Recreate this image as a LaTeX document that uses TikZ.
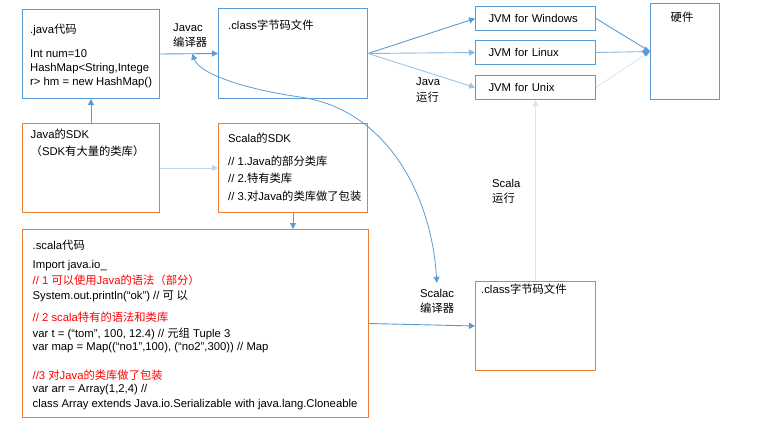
\documentclass[tikz,border=0pt]{standalone}
\usepackage{fontspec}
\setmainfont{Liberation Sans}
\newfontfamily\zhfont{Noto Sans CJK SC}
\newcommand{\zh}[1]{{\zhfont #1}}
\usetikzlibrary{arrows.meta}
\definecolor{boxblue}{RGB}{91,155,213}
\definecolor{boxorange}{RGB}{237,125,49}

\begin{document}
\begin{tikzpicture}[x=1pt,y=-1pt,
    font=\fontsize{11.3}{15.4}\selectfont,
    >={Triangle[length=6pt,width=6pt]},
    bluebox/.style={draw=boxblue,line width=1pt,inner sep=0pt,anchor=north west},
    orangebox/.style={draw=boxorange,line width=1pt,inner sep=0pt,anchor=north west},
    jvmbox/.style={bluebox,minimum width=120,minimum height=24,
        inner xsep=13,text width=94,align=left},
    txt/.style={inner sep=0pt,anchor=north west,align=left},
    link/.style={draw=boxblue,line width=0.9pt,->},
    fadelink/.style={link,draw=boxblue!40}]
    \useasboundingbox (0,0) rectangle (782,434);

    % java side
    \node[bluebox,minimum width=137,minimum height=89] (java) at (22,9) {};
    \node[txt,font=\fontsize{11.3}{14}\selectfont] (javatxt) at (30,23.5)
        {.java\zh{代码}\\[10pt]Int num=10\\HashMap<String,Intege\\r> hm = new HashMap()};

    \node[bluebox,minimum width=149,minimum height=90] (classtop) at (218,8) {};
    \node[txt] (classtoptxt) at (228,19.5) {.class\zh{字节码文件}};

    \node[orangebox,minimum width=137,minimum height=89] (javasdk) at (22,123) {};
    \node[txt,font=\fontsize{11.3}{17}\selectfont] (javasdktxt) at (30.5,128.5)
        {Java\zh{的}SDK\\\zh{（}SDK\zh{有大量的类库）}};

    \node[orangebox,minimum width=149,minimum height=89] (scalasdk) at (218,123) {};
    \node[txt,font=\fontsize{11.3}{17.5}\selectfont] (scalasdktxt) at (228,132.5)
        {Scala\zh{的}SDK\\[5.5pt]
         // 1.Java\zh{的部分类库}\\
         // 2.\zh{特有类库}\\
         // 3.\zh{对}Java\zh{的类库做了包装}};

    % scala code
    \node[orangebox,minimum width=346,minimum height=188] (scalacode) at (22,229) {};
    \node[txt,font=\fontsize{11.3}{13}\selectfont] (scalatxt) at (32.5,239.5)
        {.scala\zh{代码}\\[6pt]
         Import java.io\_\\[3pt]
         \textcolor{red}{// 1 \zh{可以使用}Java\zh{的语法（部分）}}\\[2pt]
         System.out.println(“ok”) // \zh{可 以}\\[9pt]
         \textcolor{red}{// 2 scala\zh{特有的语法和类库}}\\[3pt]
         var t = (“tom”, 100, 12.4) // \zh{元组} Tuple 3\\
         var map = Map((“no1”,100), (“no2”,300)) // Map\\[16pt]
         \textcolor{red}{//3 \zh{对}Java\zh{的类库做了包装}}\\
         var arr = Array(1,2,4) //\\[2pt]
         class Array extends Java.io.Serializable with java.lang.Cloneable};

    \node[orangebox,minimum width=120,minimum height=89] (scalaclass) at (475,281) {};
    \node[txt] (scalaclasstxt) at (481,283.5) {.class\zh{字节码文件}};

    % jvm and hardware
    \node[jvmbox] (win) at (475,6) {JVM for Windows};
    \node[jvmbox] (linux) at (475,40) {JVM for Linux};
    \node[jvmbox] (unix) at (475,75) {JVM for Unix};

    \node[bluebox,minimum width=69,minimum height=96] (hw) at (650,3) {};
    \node[inner sep=0pt] (hwtxt) at (682,17) {\zh{硬件}};

    % labels
    \node[txt] (javac) at (173,23.6) {Javac\\\zh{编译器}};
    \node[txt] (javarun) at (416,77.8) {Java\\\zh{运行}};
    \node[txt] (scalarun) at (492,178.8) {Scala\\\zh{运行}};
    \node[txt] (scalac) at (420,288.8) {Scalac\\\zh{编译器}};

    % connectors
    \draw[link] (java.east) -- (classtop.west);
    \draw[link] (javasdk.north) -- (java.south);
    \draw[fadelink] (javasdk.east) -- (scalasdk.west);
    \draw[link] (scalasdk.south) -- (scalasdk.south |- scalacode.north);
    \draw[link] (classtop.east) -- (win.west);
    \draw[link,draw=boxblue!70] (classtop.east) -- (linux.west);
    \draw[link,draw=boxblue!60] (classtop.east) -- (unix.west);
    \draw[link,-] (win.east) -- (hw.west);
    \draw[link,draw=boxblue!25,-] (unix.east) -- (hw.west);
    \draw[link,draw=boxblue!70,-{Diamond[length=8pt,width=10pt,color=boxblue]}]
        (linux.east) -- (hw.west);
    \draw[fadelink,draw=boxblue!25] (scalaclass.north) -- (unix.south);
    \draw[link] (scalacode.east) -- (scalaclass.west);
    % javac <-> scalac
    \draw[link,line width=0.8pt,<->,shorten <=6pt,shorten >=6pt]
        (javac.south) .. controls (200,75) and (250,90) .. (300,97)
        .. controls (390,110) and (432,200) .. (scalac.north);
\end{tikzpicture}
\end{document}
